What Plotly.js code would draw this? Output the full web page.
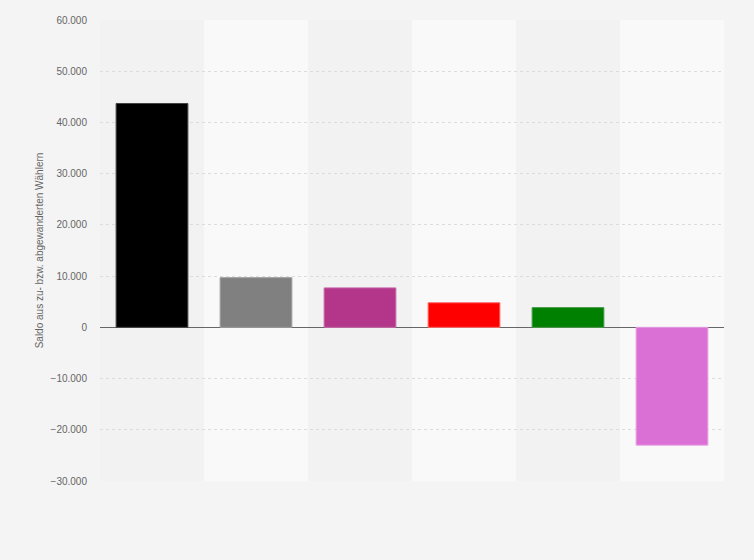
<!DOCTYPE html>
<html>
<head>
<meta charset="utf-8">
<script src="https://cdn.plot.ly/plotly-3.0.1.min.js"></script>
<style>html,body{margin:0;padding:0;background:#f4f4f4;}#chart{width:754px;height:560px;}</style>
</head>
<body>
<div id="chart"></div>
<script>
const categories = ["CDU/CSU", "Nichtwähler", "Die Linke", "SPD", "Grüne", "Sonstige"];
const values = [43700, 9700, 7700, 4800, 3850, -23000];
const colors = ["#000000", "#808080", "#b3368a", "#ff0000", "#008000", "#da70d6"];
const lineColors = ["#444444", "#a0a0a0", "#c86aa8", "#ff6a6a", "#4a9a4a", "#e8a0e4"];
const yTicks = [-30000, -20000, -10000, 0, 10000, 20000, 30000, 40000, 50000, 60000];

const shapes = categories.map((c, i) => ({
  type: "rect", xref: "x", yref: "paper", layer: "below",
  x0: i - 0.5, x1: i + 0.5, y0: 0, y1: 1,
  fillcolor: i % 2 === 1 ? "#f9f9f9" : "#f2f2f2", line: {width: 0}
}));

const trace = {
  type: "bar",
  x: categories.map((c, i) => i),
  y: values,
  text: categories,
  hoverinfo: "text+y",
  marker: {color: colors, line: {color: lineColors, width: 1}},
  textposition: "none",
  width: 0.69
};

const layout = {
  width: 754, height: 560,
  paper_bgcolor: "#f4f4f4",
  plot_bgcolor: "rgba(0,0,0,0)",
  separators: ",.",
  margin: {l: 100, r: 30, t: 20, b: 79},
  showlegend: false,
  shapes: shapes,
  bargap: 0.31,
  xaxis: {
    range: [-0.5, categories.length - 0.5],
    showticklabels: false, showgrid: false, zeroline: false, ticks: "",
    fixedrange: true
  },
  yaxis: {
    range: [-30000, 60000],
    tickvals: yTicks,
    tickformat: ",d",
    tickfont: {family: "Liberation Sans, Arial, sans-serif", size: 10, color: "#666666"},
    showgrid: true, gridcolor: "#dcdcdc", griddash: "dot", gridwidth: 1,
    zeroline: true, zerolinecolor: "#666666", zerolinewidth: 1.5,
    ticks: "", ticklen: 0, ticklabelstandoff: 12, automargin: false,
    title: {text: "Saldo aus zu- bzw. abgewanderten Wählern", standoff: 5,
            font: {family: "Liberation Sans, Arial, sans-serif", size: 10, color: "#666666"}}
  }
};

Plotly.newPlot("chart", [trace], layout, {displayModeBar: false, staticPlot: true});
</script>
</body>
</html>
